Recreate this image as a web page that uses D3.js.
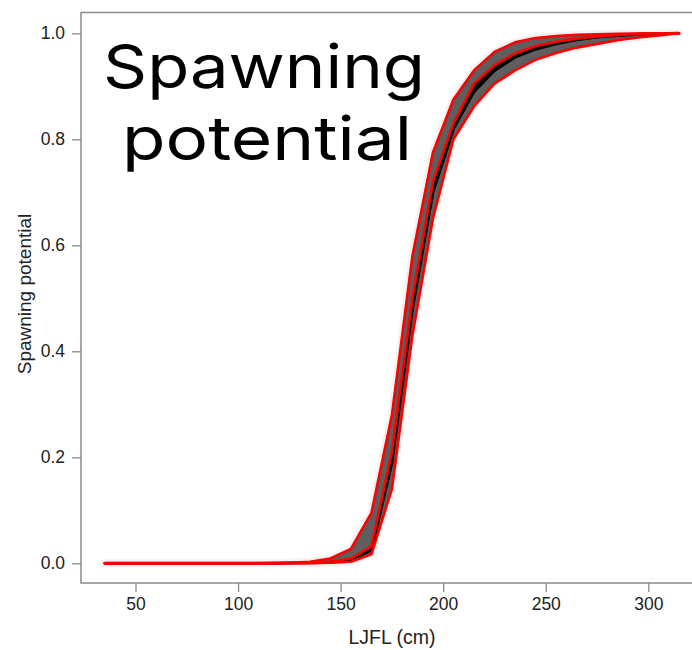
<!DOCTYPE html>
<html>
<head>
<meta charset="utf-8">
<script src="https://cdn.jsdelivr.net/npm/d3@7"></script>
<style>
  body { margin: 0; background: #fff; }
  svg { display: block; }
</style>
</head>
<body>
<div id="chart"></div>
<script>
// lengths (cm) at which the curves were evaluated
var lengths = [35, 45, 55, 65, 75, 85, 95, 105, 115, 125, 135, 145, 155, 165, 175,
               185, 195, 205, 215, 225, 235, 245, 255, 265, 275, 285, 295, 305, 315];

// upper bound (left red curve)
var upper = [0, 0, 0, 0, 0, 0, 0, 0, 0.0005, 0.001, 0.003, 0.009, 0.027, 0.095, 0.28,
             0.58, 0.775, 0.875, 0.93, 0.965, 0.983, 0.991, 0.995, 0.997, 0.998, 0.999, 0.9995, 1, 1];
// median (middle red curve)
var median = [0, 0, 0, 0, 0, 0, 0, 0, 0, 0.0005, 0.001, 0.003, 0.009, 0.032, 0.21,
              0.50, 0.72, 0.83, 0.905, 0.94, 0.962, 0.976, 0.984, 0.99, 0.994, 0.997, 0.999, 1, 1];
// lower bound (right red curve)
var lower = [0, 0, 0, 0, 0, 0, 0, 0, 0, 0, 0, 0.001, 0.003, 0.017, 0.14,
             0.43, 0.65, 0.80, 0.862, 0.905, 0.93, 0.95, 0.963, 0.973, 0.98, 0.987, 0.992, 0.996, 1];
// base case (black curve)
var base = [0, 0, 0, 0, 0, 0, 0, 0, 0, 0.0005, 0.001, 0.002, 0.006, 0.025, 0.19,
            0.48, 0.70, 0.82, 0.89, 0.93, 0.955, 0.97, 0.98, 0.988, 0.993, 0.996, 0.998, 0.999, 1];

var xTicks = [50, 100, 150, 200, 250, 300];
var yTicks = [0, 0.2, 0.4, 0.6, 0.8, 1.0];

var width = 692, height = 650;
var box = {left: 81, top: 12.5, right: 693, bottom: 583};

var svg = d3.select("#chart").append("svg")
            .attr("width", width)
            .attr("height", height);

var xScale = d3.scaleLinear().domain([50, 300]).range([135.5, 648.3]);
var yScale = d3.scaleLinear().domain([0, 1]).range([563.3, 33.3]);

var rows = lengths.map(function(l, i) {
	return {x: l, up: upper[i], md: median[i], lo: lower[i], bs: base[i]};
});

// ensemble band
var band = d3.area()
             .x(function(d) { return xScale(d.x); })
             .y0(function(d) { return yScale(d.lo); })
             .y1(function(d) { return yScale(d.up); });

svg.append("path")
   .datum(rows)
   .attr("d", band)
   .attr("fill", "none")
   .attr("stroke", "#999")
   .attr("stroke-width", 8)
   .attr("stroke-opacity", 0.12)
   .attr("stroke-linejoin", "round");

svg.append("path")
   .datum(rows)
   .attr("d", band)
   .attr("fill", "#3c3c3c")
   .attr("fill-opacity", 0.82);

// darker core around the median
var core = d3.area()
             .x(function(d) { return xScale(d.x); })
             .y0(function(d) { return yScale(d.bs); })
             .y1(function(d) { return yScale(d.md); });

svg.append("path")
   .datum(rows)
   .attr("d", core)
   .attr("fill", "#151515");

function lineFor(key) {
	return d3.line()
	         .x(function(d) { return xScale(d.x); })
	         .y(function(d) { return yScale(d[key]); });
}

svg.append("path")
   .datum(rows)
   .attr("d", lineFor("bs"))
   .attr("fill", "none")
   .attr("stroke", "#000")
   .attr("stroke-width", 3)
   .attr("stroke-linejoin", "round");

["up", "md", "lo"].forEach(function(k) {
	svg.append("path")
	   .datum(rows)
	   .attr("d", lineFor(k))
	   .attr("fill", "none")
	   .attr("stroke", "#ff0000")
	   .attr("stroke-width", 2.6)
	   .attr("stroke-linejoin", "round")
	   .attr("stroke-linecap", "round");
});

// frame
svg.append("rect")
   .attr("x", box.left)
   .attr("y", box.top)
   .attr("width", box.right - box.left)
   .attr("height", box.bottom - box.top)
   .attr("fill", "none")
   .attr("stroke", "#8a8a8a")
   .attr("stroke-width", 1.5);

// axes
var xAxis = d3.axisBottom(xScale)
              .tickValues(xTicks)
              .tickSize(9)
              .tickPadding(6)
              .tickFormat(d3.format("d"));

var gx = svg.append("g")
            .attr("transform", "translate(0," + box.bottom + ")")
            .call(xAxis);
gx.select(".domain").remove();

var yAxis = d3.axisLeft(yScale)
              .tickValues(yTicks)
              .tickSize(9)
              .tickPadding(7)
              .tickFormat(d3.format(".1f"));

var gy = svg.append("g")
            .attr("transform", "translate(" + box.left + ",0)")
            .call(yAxis);
gy.select(".domain").remove();

svg.selectAll(".tick line").attr("stroke", "#8a8a8a").attr("stroke-width", 1.3);
svg.selectAll(".tick text")
   .attr("fill", "#222")
   .style("font-family", "'Liberation Sans', Arial, sans-serif")
   .style("font-size", "17.5px");

// axis titles
svg.append("text")
   .attr("x", 392)
   .attr("y", 644)
   .attr("text-anchor", "middle")
   .attr("fill", "#222")
   .style("font-family", "'Liberation Sans', Arial, sans-serif")
   .style("font-size", "19.5px")
   .text("LJFL (cm)");

svg.append("text")
   .attr("transform", "translate(31,294) rotate(-90)")
   .attr("text-anchor", "middle")
   .attr("fill", "#222")
   .style("font-family", "'Liberation Sans', Arial, sans-serif")
   .style("font-size", "19px")
   .text("Spawning potential");

// big overlay title
var title = svg.append("g")
               .style("font-family", "Inter, 'Noto Sans', sans-serif")
               .style("font-size", "61px")
               .attr("fill", "#000");
title.append("text").attr("x", 103).attr("y", 88)
     .attr("textLength", 322).attr("lengthAdjust", "spacingAndGlyphs")
     .text("Spawning");
title.append("text").attr("x", 122).attr("y", 160)
     .attr("textLength", 290).attr("lengthAdjust", "spacingAndGlyphs")
     .text("potential");
</script>
</body>
</html>
